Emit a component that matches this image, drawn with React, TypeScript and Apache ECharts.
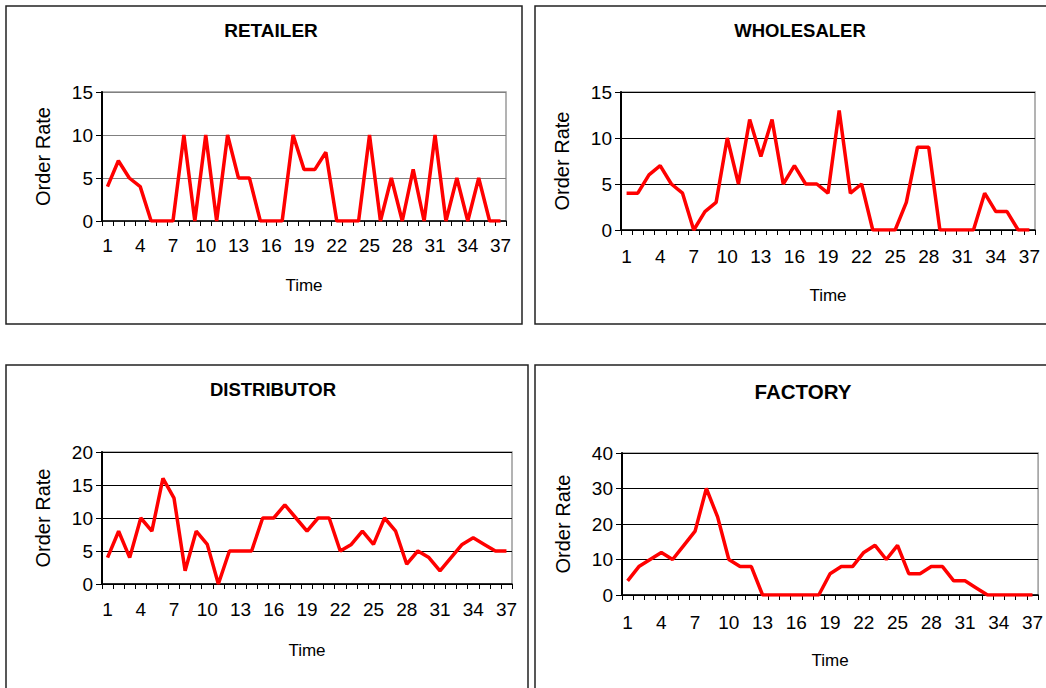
import React, { useEffect, useRef } from "react";
import * as echarts from "echarts";

// Period numbers shared by all four panels
const periods: string[] = Array.from({ length: 37 }, (_, i) => String(i + 1));

// Order rate per period for each echelon of the supply chain
const retailerOrders = [4, 7, 5, 4, 0, 0, 0, 10, 0, 10, 0, 10, 5, 5, 0, 0, 0, 10, 6, 6, 8, 0, 0, 0, 10, 0, 5, 0, 6, 0, 10, 0, 5, 0, 5, 0, 0];
const wholesalerOrders = [4, 4, 6, 7, 5, 4, 0, 2, 3, 10, 5, 12, 8, 12, 5, 7, 5, 5, 4, 13, 4, 5, 0, 0, 0, 3, 9, 9, 0, 0, 0, 0, 4, 2, 2, 0, 0];
const distributorOrders = [4, 8, 4, 10, 8, 16, 13, 2, 8, 6, 0, 5, 5, 5, 10, 10, 12, 10, 8, 10, 10, 5, 6, 8, 6, 10, 8, 3, 5, 4, 2, 4, 6, 7, 6, 5, 5];
const factoryOrders = [4, 8, 10, 12, 10, 14, 18, 30, 22, 10, 8, 8, 0, 0, 0, 0, 0, 0, 6, 8, 8, 12, 14, 10, 14, 6, 6, 8, 8, 4, 4, 2, 0, 0, 0, 0, 0];

const panelTitles = ["RETAILER", "WHOLESALER", "DISTRIBUTOR", "FACTORY"];
const yMax = [15, 15, 20, 40];
const yStep = [5, 5, 5, 10];

const FONT = "Liberation Sans, Arial, sans-serif";

// Panel geometry: frame box, plot box, title placement
const panels = [
  { frame: [6, 6, 516, 318], grid: [102, 92, 404, 129], title: [266, 16, 19], grid_line: "#808080", nameGapX: 56, labelMargin: 15 },
  { frame: [535, 6, 530, 318], grid: [621, 92, 414, 138], title: [795, 16, 18.5], grid_line: "#000", nameGapX: 57, labelMargin: 17 },
  { frame: [6, 365, 522, 340], grid: [102, 452, 410, 132], title: [268, 375, 18.5], grid_line: "#000", nameGapX: 58, labelMargin: 16 },
  { frame: [535, 365, 530, 340], grid: [622, 453, 420, 142], title: [798, 376, 20.5], grid_line: "#000", nameGapX: 57, labelMargin: 18 },
];

const seriesData = [retailerOrders, wholesalerOrders, distributorOrders, factoryOrders];

export default function App() {
  const ref = useRef<HTMLDivElement>(null);

  useEffect(() => {
    if (!ref.current) return;
    const chart = echarts.init(ref.current, null, { renderer: "svg" });

    const option: any = {
      animation: false,
      backgroundColor: "#fff",
      title: panels.map((p, i) => ({
        text: panelTitles[i],
        left: p.title[0],
        top: p.title[1],
        textAlign: "center",
        textStyle: { fontFamily: FONT, fontWeight: "bold", fontSize: p.title[2], color: "#000" },
      })),
      graphic: panels.map((p) => ({
        type: "rect",
        shape: { x: p.frame[0], y: p.frame[1], width: p.frame[2], height: p.frame[3] },
        style: { fill: "none", stroke: "#222", lineWidth: 1.5 },
        silent: true,
      })),
      grid: panels.map((p) => ({
        left: p.grid[0],
        top: p.grid[1],
        width: p.grid[2],
        height: p.grid[3],
        show: true,
        borderColor: "#9a9a9a",
        borderWidth: 1.5,
        backgroundColor: "#fff",
        containLabel: false,
      })),
      xAxis: panels.map((p, i) => ({
        type: "category",
        gridIndex: i,
        data: periods,
        boundaryGap: true,
        name: "Time",
        nameLocation: "middle",
        nameGap: p.nameGapX,
        nameTextStyle: { fontFamily: FONT, fontSize: 17, color: "#000" },
        axisLine: { show: true, lineStyle: { color: "#000", width: 1.5 } },
        axisTick: { show: true, interval: 0, length: 5, lineStyle: { color: "#000", width: 1 } },
        axisLabel: { interval: 2, margin: p.labelMargin, fontFamily: FONT, fontSize: 19, color: "#000" },
        splitLine: { show: false },
      })),
      yAxis: panels.map((p, i) => ({
        type: "value",
        gridIndex: i,
        min: 0,
        max: yMax[i],
        interval: yStep[i],
        name: "Order Rate",
        nameLocation: "middle",
        nameRotate: 90,
        nameGap: 49,
        nameTextStyle: { fontFamily: FONT, fontSize: 20, color: "#000" },
        axisLine: { show: true, lineStyle: { color: "#000", width: 2 } },
        axisTick: { show: true, length: 6, lineStyle: { color: "#000", width: 1 } },
        axisLabel: { margin: 9, fontFamily: FONT, fontSize: 19, color: "#000" },
        splitLine: { show: true, lineStyle: { color: p.grid_line, width: 1 } },
      })),
      series: seriesData.map((d, i) => ({
        type: "line",
        xAxisIndex: i,
        yAxisIndex: i,
        data: d,
        showSymbol: false,
        symbol: "none",
        lineStyle: { color: "#ff0000", width: 3.5 },
        itemStyle: { color: "#ff0000" },
      })),
    };

    chart.setOption(option);
    return () => chart.dispose();
  }, []);

  return (
    <div
      ref={ref}
      style={{ position: "fixed", left: 0, top: 0, width: 1046, height: 688, background: "#fff" }}
    />
  );
}
